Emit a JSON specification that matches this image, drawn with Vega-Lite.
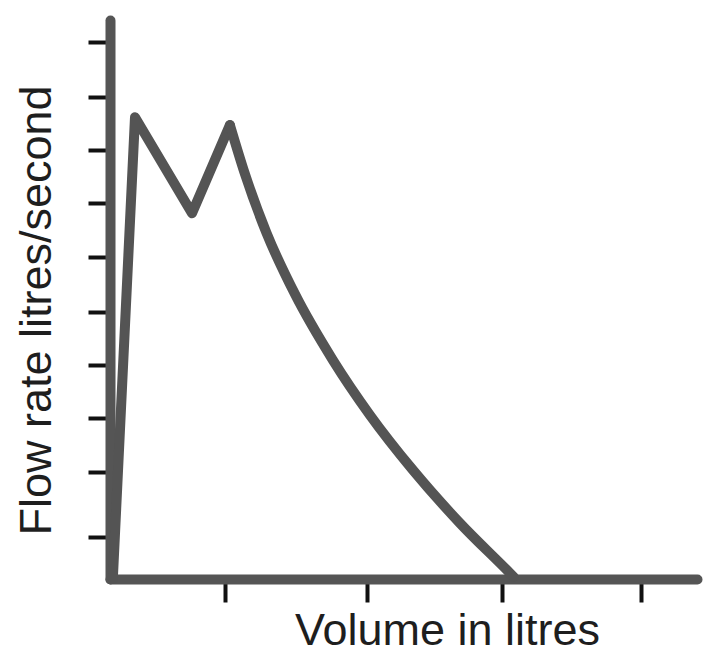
{
  "$schema": "https://vega.github.io/schema/vega-lite/v6.json",
  "width": 587,
  "height": 559,
  "autosize": {"type": "none"},
  "padding": {"left": 110, "top": 20, "right": 9, "bottom": 74},
  "background": "white",
  "config": {
    "view": {"stroke": null},
    "font": "Liberation Sans"
  },
  "data": {
    "values": [
      {"i": 0, "volume": 0.02, "flow": 0.0},
      {"i": 1, "volume": 0.178, "flow": 8.6},
      {"i": 2, "volume": 0.584, "flow": 6.81},
      {"i": 3, "volume": 0.854, "flow": 8.453},
      {"i": 4, "volume": 0.961, "flow": 7.541},
      {"i": 5, "volume": 1.115, "flow": 6.442},
      {"i": 6, "volume": 1.317, "flow": 5.306},
      {"i": 7, "volume": 1.587, "flow": 4.077},
      {"i": 8, "volume": 1.851, "flow": 3.053},
      {"i": 9, "volume": 2.157, "flow": 2.029},
      {"i": 10, "volume": 2.491, "flow": 1.043},
      {"i": 11, "volume": 2.847, "flow": 0.112},
      {"i": 12, "volume": 2.875, "flow": 0.037}
    ]
  },
  "encoding": {
    "order": {"field": "i", "type": "quantitative"},
    "x": {
      "field": "volume",
      "type": "quantitative",
      "scale": {"domain": [0, 4.18], "nice": false, "zero": false},
      "axis": {
        "title": "Volume in litres",
        "values": [0.819, 1.829, 2.79, 3.779],
        "labels": false,
        "grid": false,
        "domainColor": "#555555",
        "domainWidth": 10,
        "domainCap": "round",
        "tickColor": "#111111",
        "tickWidth": 4,
        "tickSize": 23,
        "titleFont": "Liberation Sans",
        "titleFontSize": 45,
        "titleFontWeight": "normal",
        "titleColor": "#1e1e1e",
        "titleX": 337,
        "titleY": 65,
        "titleAlign": "center",
        "titleBaseline": "alphabetic"
      }
    },
    "y": {
      "field": "flow",
      "type": "quantitative",
      "scale": {"domain": [0, 10.41], "nice": false, "zero": false},
      "axis": {
        "title": "Flow rate litres/second",
        "values": [0.78, 1.99, 3.0, 3.98, 4.97, 6.0, 7.0, 7.99, 8.97, 10.0],
        "labels": false,
        "grid": false,
        "domainColor": "#555555",
        "domainWidth": 10,
        "domainCap": "round",
        "tickColor": "#111111",
        "tickWidth": 4,
        "tickSize": 22,
        "titleFont": "Liberation Sans",
        "titleFontSize": 45,
        "titleFontWeight": "normal",
        "titleColor": "#1e1e1e",
        "titleX": -60,
        "titleY": 290,
        "titleAlign": "center",
        "titleBaseline": "alphabetic"
      }
    }
  },
  "layer": [
    {
      "transform": [{"filter": "datum.i <= 3"}],
      "mark": {
        "type": "line",
        "color": "#545454",
        "strokeWidth": 10,
        "strokeJoin": "round",
        "strokeCap": "round",
        "clip": false
      }
    },
    {
      "transform": [{"filter": "datum.i >= 3"}],
      "mark": {
        "type": "line",
        "color": "#545454",
        "strokeWidth": 10,
        "strokeJoin": "round",
        "strokeCap": "round",
        "interpolate": "monotone",
        "clip": false
      }
    }
  ]
}
